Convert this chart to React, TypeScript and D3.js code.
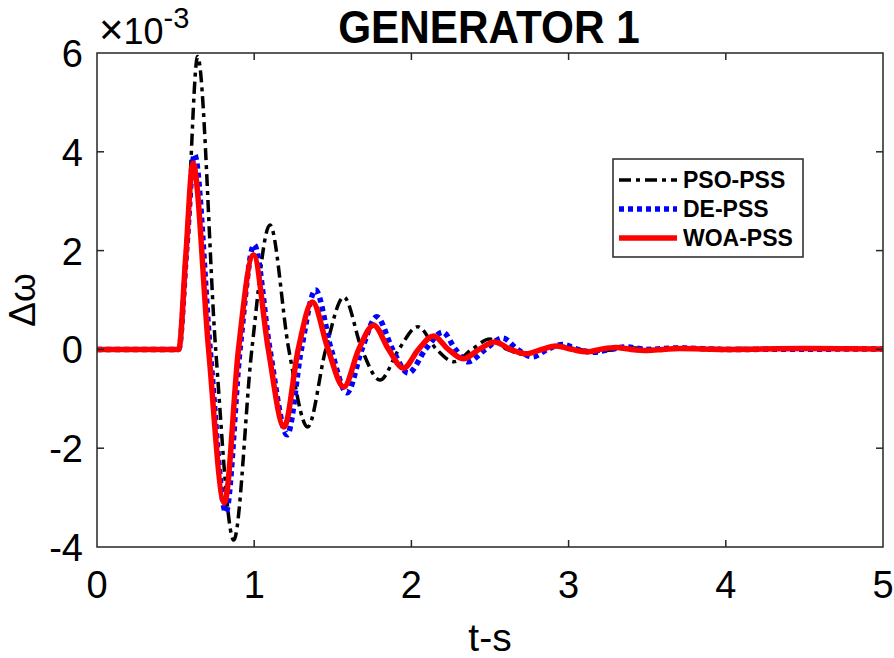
import React, { useEffect, useRef } from "react";
import * as d3 from "d3";

// Generator 1 speed deviation after a disturbance, three tuned PSS controllers.
const xTicks = [0, 1, 2, 3, 4, 5];
const yTicks = [-4, -2, 0, 2, 4, 6];

// [time (s), Δω (×10^-3)] at rest points, extrema and zero crossings
const psoPss: [number, number][] = [
  [0, 0], [0.52, 0], [0.58, 2.7], [0.64, 5.93], [0.755, 0], [0.87, -3.86], [0.985, 0],
  [1.1, 2.52], [1.22, 0], [1.34, -1.57], [1.455, 0], [1.57, 1.06], [1.685, 0],
  [1.8, -0.62], [1.92, 0], [2.04, 0.46], [2.16, 0], [2.27, -0.25], [2.385, 0],
  [2.5, 0.21], [2.61, 0], [2.72, -0.1], [2.83, 0], [2.95, 0.07], [3.06, 0],
  [3.18, -0.04], [3.3, 0], [3.42, 0.03], [3.6, 0], [4, 0.02], [5, 0.01],
];
const dePss: [number, number][] = [
  [0, 0], [0.52, 0], [0.57, 2.0], [0.62, 3.95], [0.72, 0], [0.82, -3.3], [0.91, 0],
  [1.0, 2.12], [1.1, 0], [1.21, -1.73], [1.3, 0], [1.39, 1.2], [1.49, 0],
  [1.59, -0.88], [1.685, 0], [1.78, 0.66], [1.88, 0], [1.98, -0.48], [2.09, 0],
  [2.2, 0.35], [2.28, 0], [2.36, -0.25], [2.47, 0], [2.58, 0.23], [2.675, 0],
  [2.77, -0.15], [2.865, 0], [2.96, 0.1], [3.06, 0], [3.16, -0.06], [3.26, 0],
  [3.36, 0.05], [3.5, 0], [3.7, 0.03], [4, 0], [5, 0.01],
];
const woaPss: [number, number][] = [
  [0, 0], [0.52, 0], [0.565, 1.9], [0.61, 3.77], [0.71, 0], [0.81, -3.11], [0.9, 0],
  [0.995, 1.91], [1.09, 0], [1.19, -1.57], [1.28, 0], [1.37, 0.96], [1.47, 0],
  [1.57, -0.76], [1.665, 0], [1.76, 0.49], [1.855, 0], [1.95, -0.38], [2.045, 0],
  [2.14, 0.27], [2.235, 0], [2.33, -0.19], [2.43, 0], [2.53, 0.15], [2.63, 0],
  [2.73, -0.09], [2.83, 0], [2.92, 0.07], [3.02, 0], [3.12, -0.05], [3.2, 0],
  [3.3, 0.04], [3.4, 0], [3.5, -0.02], [3.6, 0], [3.7, 0.02], [4, 0], [4.5, 0.02], [5, 0.01],
];

const series = [
  { name: "PSO-PSS", data: psoPss, color: "#000000", width: 3.5, dash: "12,5,4,5" },
  { name: "DE-PSS", data: dePss, color: "#0000ff", width: 5.5, dash: "5,4" },
  { name: "WOA-PSS", data: woaPss, color: "#ff0000", width: 5.5, dash: null },
];

const FONT = "'Liberation Sans', Arial, Helvetica, sans-serif";

export default function App() {
  const ref = useRef<SVGSVGElement | null>(null);

  useEffect(() => {
    const svg = d3.select(ref.current);
    svg.selectAll("*").remove();

    const W = 894;
    const H = 658;
    const margin = { top: 53, right: 11, bottom: 111, left: 97 };
    const width = W - margin.left - margin.right;
    const height = H - margin.top - margin.bottom;

    const x = d3.scaleLinear().domain([0, 5]).range([0, width]);
    const y = d3.scaleLinear().domain([-4, 6]).range([height, 0]);

    svg.append("rect").attr("width", W).attr("height", H).attr("fill", "#fff");

    const g = svg.append("g").attr("transform", `translate(${margin.left},${margin.top})`);

    const line = d3
      .line<[number, number]>()
      .x((d) => x(d[0]))
      .y((d) => y(d[1]))
      .curve(d3.curveMonotoneX);

    g.append("clipPath").attr("id", "plot-clip").append("rect").attr("y", -4).attr("width", width).attr("height", height + 8);

    series.forEach((s) => {
      g.append("path")
        .datum(s.data)
        .attr("clip-path", "url(#plot-clip)")
        .attr("fill", "none")
        .attr("stroke", s.color)
        .attr("stroke-width", s.width)
        .attr("stroke-dasharray", s.dash)
        .attr("stroke-linejoin", "round")
        .attr("d", line);
    });

    // box and inward ticks
    const axisColor = "#262626";
    g.append("rect")
      .attr("width", width)
      .attr("height", height)
      .attr("fill", "none")
      .attr("stroke", axisColor)
      .attr("stroke-width", 1.5);

    const tickLen = 7;
    xTicks.slice(1, -1).forEach((t) => {
      g.append("line").attr("x1", x(t)).attr("x2", x(t)).attr("y1", height).attr("y2", height - tickLen).attr("stroke", axisColor).attr("stroke-width", 1.5);
      g.append("line").attr("x1", x(t)).attr("x2", x(t)).attr("y1", 0).attr("y2", tickLen).attr("stroke", axisColor).attr("stroke-width", 1.5);
    });
    yTicks.slice(1, -1).forEach((t) => {
      g.append("line").attr("x1", 0).attr("x2", tickLen).attr("y1", y(t)).attr("y2", y(t)).attr("stroke", axisColor).attr("stroke-width", 1.5);
      g.append("line").attr("x1", width).attr("x2", width - tickLen).attr("y1", y(t)).attr("y2", y(t)).attr("stroke", axisColor).attr("stroke-width", 1.5);
    });

    g.selectAll(".xl")
      .data(xTicks)
      .join("text")
      .attr("x", (d) => x(d))
      .attr("y", height + 51)
      .attr("text-anchor", "middle")
      .attr("font-family", FONT)
      .attr("font-size", 38)
      .attr("fill", "#000")
      .text((d) => String(d));

    g.selectAll(".yl")
      .data(yTicks)
      .join("text")
      .attr("x", -14)
      .attr("y", (d) => y(d) + 14)
      .attr("text-anchor", "end")
      .attr("font-family", FONT)
      .attr("font-size", 38)
      .attr("fill", "#000")
      .text((d) => (d < 0 ? `-${Math.abs(d)}` : String(d)));

    // exponent
    const ex = svg.append("text").attr("x", 99).attr("y", 44).attr("font-family", FONT).attr("font-size", 36).attr("fill", "#000");
    ex.append("tspan").attr("font-size", 42).text("×");
    ex.append("tspan").text("10");
    ex.append("tspan").attr("font-size", 29).attr("dy", -16).text("-3");

    // title
    svg
      .append("text")
      .attr("transform", `translate(489,43) scale(0.9,1)`)
      .attr("text-anchor", "middle")
      .attr("font-family", FONT)
      .attr("font-weight", "bold")
      .attr("font-size", 47)
      .attr("fill", "#000")
      .text("GENERATOR 1");

    // axis labels
    svg
      .append("text")
      .attr("x", 490)
      .attr("y", 651)
      .attr("text-anchor", "middle")
      .attr("font-family", FONT)
      .attr("font-size", 39)
      .attr("fill", "#000")
      .text("t-s");

    svg
      .append("text")
      .attr("transform", "translate(35,300) rotate(-90)")
      .attr("text-anchor", "middle")
      .attr("font-family", FONT)
      .attr("font-size", 37)
      .attr("fill", "#000")
      .text("Δω");

    // legend
    const lg = svg.append("g").attr("transform", "translate(613,159)");
    lg.append("rect").attr("width", 190).attr("height", 98).attr("fill", "#fff").attr("stroke", axisColor).attr("stroke-width", 1.5);
    series.forEach((s, i) => {
      const cy = 21 + i * 29;
      lg.append("line")
        .attr("x1", 6)
        .attr("x2", 64)
        .attr("y1", cy)
        .attr("y2", cy)
        .attr("stroke", s.color)
        .attr("stroke-width", s.width)
        .attr("stroke-dasharray", s.dash);
      lg.append("text")
        .attr("x", 70)
        .attr("y", cy + 8)
        .attr("font-family", FONT)
        .attr("font-weight", "bold")
        .attr("font-size", 23)
        .attr("fill", "#000")
        .text(s.name);
    });
  }, []);

  return (
    <svg
      ref={ref}
      width={894}
      height={658}
      style={{ display: "block", position: "absolute", left: 0, top: 0 }}
    />
  );
}
